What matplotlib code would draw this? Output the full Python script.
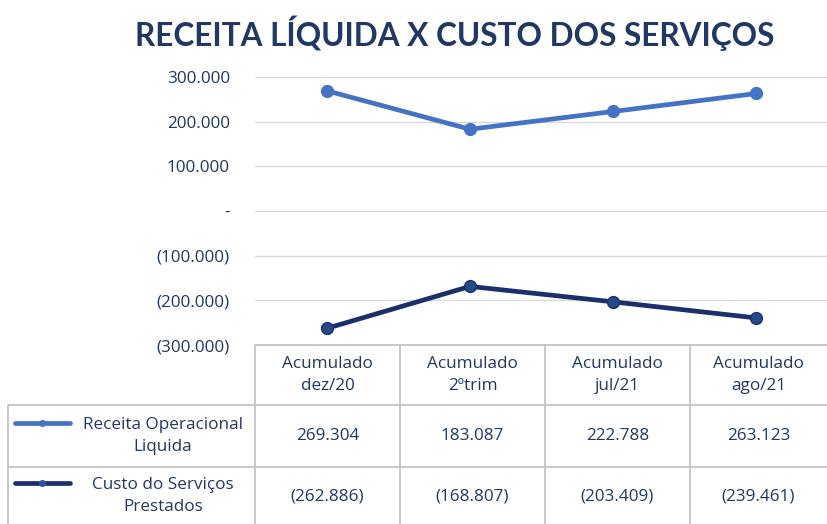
import matplotlib
matplotlib.use("Agg")
import matplotlib.pyplot as plt
from matplotlib.lines import Line2D

categories = ["Acumulado\ndez/20", "Acumulado\n2ºtrim", "Acumulado\njul/21", "Acumulado\nago/21"]
receita = [269304, 183087, 222788, 263123]
custo = [-262886, -168807, -203409, -239461]
series_names = ["Receita Operacional\nLiquida", "Custo do Serviços\nPrestados"]
yticks = [-300000, -200000, -100000, 0, 100000, 200000, 300000]
title = "RECEITA LÍQUIDA X CUSTO DOS SERVIÇOS"

TXT = "#1f3864"
C1 = "#4472c4"
C2 = "#1a2f6b"
GRID = "#d9d9d9"
TBL = "#bfbfbf"
FONT = "Open Sans"

def fmt(v):
    if v == 0:
        return "-"
    s = f"{abs(v):,.0f}".replace(",", ".")
    return f"({s})" if v < 0 else s

W, H = 828, 524
fig = plt.figure(figsize=(W / 100, H / 100), dpi=100)

# plot area (pixel coords)
px0, px1, py_top, py_bot = 255, 835, 77, 345
ax = fig.add_axes([px0 / W, 1 - py_bot / H, (px1 - px0) / W, (py_bot - py_top) / H])
ax.set_xlim(-0.5, 3.5 + (835 - 828) / 145)
ax.set_ylim(-300000, 300000)
ax.set_yticks(yticks)
ax.set_yticklabels([fmt(v) for v in yticks], color=TXT, fontsize=12.3, family=FONT)
ax.tick_params(axis="y", length=0, pad=18)
ax.set_xticks([])
for s in ax.spines.values():
    s.set_visible(False)
ax.grid(axis="y", color=GRID, lw=1)
ax.set_axisbelow(True)
x = range(len(categories))
ax.plot(x, receita, color=C1, lw=3.4, marker="o", ms=8.5, mfc=C1, mec=C1, solid_capstyle="round", zorder=3)
ax.plot(x, custo, color=C2, lw=3.4, marker="o", ms=8.5, mfc="#254a8a", mec=C2, mew=1, solid_capstyle="round", zorder=3)

fig.text(455 / W, 1 - 33 / H, title, ha="center", va="center", fontsize=22.7,
         fontweight="bold", color=TXT, family="Lato")

# data table
tab = fig.add_axes([0, 0, 1, 1 - 340 / H])
tab.set_xlim(0, W)
tab.set_ylim(H, 340)
tab.axis("off")
col_edges = [255, 400, 545, 690, 835]
lk = dict(color=TBL, lw=1.2, solid_capstyle="butt")
tab.plot([255, 835], [345, 345], **lk)
tab.plot([8, 835], [405, 405], **lk)
tab.plot([8, 835], [467, 467], **lk)
tab.plot([8, 8], [405, 530], **lk)
for xe in col_edges[:-1]:
    tab.plot([xe, xe], [345, 530], **lk)

tk = dict(ha="center", va="center", color=TXT, fontsize=12.3, family=FONT, linespacing=1.5)
for i, c in enumerate(categories):
    cx = (col_edges[i] + col_edges[i + 1]) / 2 if i < 3 else (690 + 835) / 2 - 4
    tab.text(cx, 375, c, **tk)
    tab.text(cx, 436, fmt(receita[i]), **tk)
    tab.text(cx, 496, fmt(custo[i]), **tk)

for (ry, name, col, mfc) in [(436, series_names[0], C1, C1), (496, series_names[1], C2, "#2e5597")]:
    tab.add_line(Line2D([15, 70], [ry - 13, ry - 13], color=col, lw=3.4, solid_capstyle="round"))
    tab.plot([42], [ry - 13], marker="o", ms=4, color=mfc)
    tab.text(163, ry, name, **tk)

fig.savefig("out.png", dpi=100)
